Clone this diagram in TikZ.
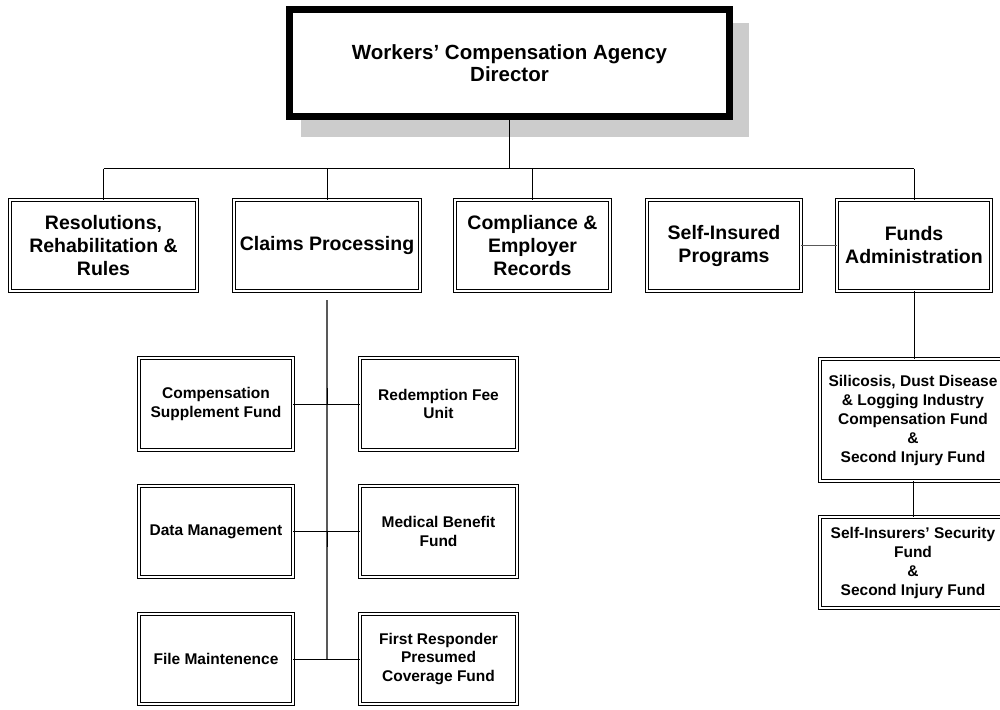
\documentclass[tikz,border=0pt]{standalone}
\usepackage{fontspec}
\setmainfont{Liberation Sans}
\usetikzlibrary{calc}
\begin{document}
\begin{tikzpicture}[x=1pt,y=-1pt,
  box/.style={draw=black, double=white, double distance=1.6pt, line width=0.8pt, fill=white, rectangle, inner sep=0pt, align=center, font=\bfseries},
  lvtwo/.style={box, font=\fontsize{19.5}{23}\selectfont\bfseries},
  lvthree/.style={box, font=\fontsize{15.5}{18.5}\selectfont\bfseries},
  rcol/.style={box, font=\fontsize{15.5}{19}\selectfont\bfseries},
  conn/.style={draw=black, line width=1pt},
  grayconn/.style={draw=black!65, line width=1.3pt},
]
\useasboundingbox (0,0) rectangle (1000,709);
% shadow of top box
\fill[black!20] (301,23) rectangle (749,137);
\node[draw=black, line width=7pt, fill=white, inner sep=0pt, minimum width=440pt, minimum height=107pt, align=center,
  font=\fontsize{20.5}{22}\selectfont\bfseries] (top) at (509.5,63) {Workers’ Compensation Agency\\Director};

% level 2
\node[lvtwo, minimum width=187pt, minimum height=91pt] (res) at (103.5,245.5) {Resolutions,\\Rehabilitation \&\\Rules};
\node[lvtwo, minimum width=186pt, minimum height=91pt] (claims) at (327,245.5) {Claims Processing};
\node[lvtwo, minimum width=155pt, minimum height=91pt] (comp) at (532.5,245.5) {Compliance \&\\Employer\\Records};
\node[lvtwo, minimum width=154pt, minimum height=91pt] (si) at (724,245.5) {Self-Insured\\Programs};
\node[lvtwo, minimum width=154pt, minimum height=91pt] (funds) at (914,245.5) {Funds\\Administration};

% level 3 (claims)
\node[lvthree, minimum width=154pt, minimum height=92pt] (csf) at (216,404) {Compensation\\Supplement Fund};
\node[lvthree, minimum width=157pt, minimum height=92pt] (rfu) at (438.5,404) {Redemption Fee\\Unit};
\node[lvthree, minimum width=154pt, minimum height=91pt] (dm) at (216,531.5) {Data Management};
\node[lvthree, minimum width=157pt, minimum height=91pt] (mbf) at (438.5,531.5) {Medical Benefit\\Fund};
\node[lvthree, minimum width=154pt, minimum height=90pt] (fm) at (216,659) {File Maintenence};
\node[lvthree, minimum width=157pt, minimum height=90pt] (fr) at (438.5,659) {First Responder\\Presumed\\Coverage Fund};

% right column (funds)
\node[rcol, minimum width=186pt, minimum height=122pt] (sil) at (913,420) {Silicosis, Dust Disease\\\& Logging Industry\\Compensation Fund\\\&\\Second Injury Fund};
\node[rcol, minimum width=186pt, minimum height=91pt] (sisf) at (913,562.5) {Self-Insurers’ Security\\Fund\\\&\\Second Injury Fund};

% connectors
\draw[conn] (top.south) -- ++(0,48.5) coordinate (busc);
\draw[conn] (res.north |- busc) -- (funds.north |- busc);
\draw[conn] (res.north |- busc) -- (res.north);
\draw[conn] (claims.north |- busc) -- (claims.north);
\draw[conn] (comp.north |- busc) -- (comp.north);
\draw[conn] (funds.north |- busc) -- (funds.north);

\coordinate (cpstart) at ($(claims.south)+(0,9)$);
\draw[grayconn] (cpstart) -- (cpstart |- fm.east);
\draw[conn] (csf.east) -- (rfu.west);
\draw[conn] (dm.east) -- (mbf.west);
\draw[conn] (fm.east) -- (fr.west);
\draw[conn] (cpstart |- 0,388) -- (cpstart |- csf.east);
\draw[conn] (cpstart |- dm.east) -- (cpstart |- 0,547);

\draw[grayconn] (si.east) -- (funds.west);
\draw[conn] (funds.south) -- (funds.south |- sil.north);
\draw[conn] (sil.south) -- (sisf.north);
\end{tikzpicture}
\end{document}
